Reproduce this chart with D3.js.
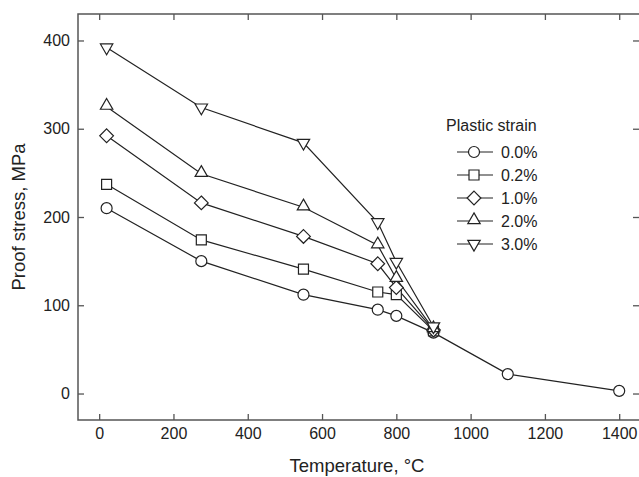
<!DOCTYPE html>
<html>
<head>
<meta charset="utf-8">
<script src="https://cdn.jsdelivr.net/npm/d3@7/dist/d3.min.js"></script>
<style>
  body { margin: 0; background: #fff; }
  svg { display: block; font-family: Arial, "Liberation Sans", sans-serif; }
</style>
</head>
<body>
<svg id="chart" width="639" height="477"></svg>
<script>
// data
const temps = [20, 275, 550, 750, 800, 900];
const strainLabels = ["0.0%", "0.2%", "1.0%", "2.0%", "3.0%"];
const symbols = ["circle", "square", "diamond", "triangle", "triangleDown"];
const s00 = [210, 150, 112, 95, 88, 69, 22, 3];
const s00Temps = [20, 275, 550, 750, 800, 900, 1100, 1400];
const s02 = [237, 174, 141, 115, 112, 71];
const s10 = [292, 216, 178, 147, 120, 72];
const s20 = [325, 249, 211, 168, 130, 73];
const s30 = [392, 324, 284, 194, 149, 76];
const xTicks = [0, 200, 400, 600, 800, 1000, 1200, 1400];
const yTicks = [0, 100, 200, 300, 400];

const series = [
  s00.map((v, i) => [s00Temps[i], v]),
  s02.map((v, i) => [temps[i], v]),
  s10.map((v, i) => [temps[i], v]),
  s20.map((v, i) => [temps[i], v]),
  s30.map((v, i) => [temps[i], v])
];

const margin = { left: 78, top: 14, right: 640, bottom: 420 };
const svg = d3.select("#chart");

const x = d3.scaleLinear().domain([-57, 1456]).range([margin.left, margin.right]);
const y = d3.scaleLinear().domain([-30, 430]).range([margin.bottom, margin.top]);

const axisColor = "#555";
const lineColor = "#222";

// frame
svg.append("rect")
  .attr("x", margin.left).attr("y", margin.top)
  .attr("width", margin.right - margin.left)
  .attr("height", margin.bottom - margin.top)
  .attr("fill", "none").attr("stroke", axisColor).attr("stroke-width", 1.5);

const tickLen = 6;
const styleAxis = (g) => {
  g.select(".domain").remove();
  g.selectAll(".tick line").attr("stroke", axisColor).attr("stroke-width", 1.3);
  g.selectAll(".tick text").attr("fill", "#222").style("font-size", "16px");
};

svg.append("g")
  .attr("transform", `translate(0,${margin.bottom})`)
  .call(d3.axisBottom(x).tickValues(xTicks).tickSize(-tickLen).tickPadding(8).tickFormat(d3.format("d")))
  .call(styleAxis);
svg.append("g")
  .attr("transform", `translate(0,${margin.top})`)
  .call(d3.axisTop(x).tickValues(xTicks).tickSize(-tickLen).tickFormat(""))
  .call(styleAxis);
svg.append("g")
  .attr("transform", `translate(${margin.left},0)`)
  .call(d3.axisLeft(y).tickValues(yTicks).tickSize(-tickLen).tickPadding(8))
  .call(styleAxis);
svg.append("g")
  .attr("transform", `translate(${margin.right - 1},0)`)
  .call(d3.axisRight(y).tickValues(yTicks).tickSize(-tickLen).tickFormat(""))
  .call(styleAxis);

// axis titles
svg.append("text")
  .attr("x", 357).attr("y", 472)
  .attr("text-anchor", "middle")
  .attr("fill", "#222")
  .style("font-size", "18.5px")
  .text("Temperature, °C");
svg.append("text")
  .attr("transform", `translate(25,${(margin.top + margin.bottom) / 2}) rotate(-90)`)
  .attr("text-anchor", "middle")
  .attr("fill", "#222")
  .style("font-size", "18.5px")
  .text("Proof stress, MPa");

const symType = {
  circle: d3.symbolCircle,
  square: d3.symbolSquare,
  diamond: d3.symbolDiamond2,
  triangle: d3.symbolTriangle2,
  triangleDown: d3.symbolTriangle2
};
const symSize = { circle: 95, square: 100, diamond: 120, triangle: 110, triangleDown: 110 };

function drawSymbol(g, name, cx, cy) {
  const path = d3.symbol().type(symType[name]).size(symSize[name])();
  let t = `translate(${cx},${cy})`;
  if (name === "triangleDown") t += " rotate(180)";
  if (name === "triangle") t += " translate(0,-1)";
  g.append("path")
    .attr("d", path)
    .attr("transform", t)
    .attr("fill", "#fff")
    .attr("stroke", lineColor)
    .attr("stroke-width", 1.2);
}

const line = d3.line().x(d => x(d[0])).y(d => y(d[1]));

series.forEach((pts) => {
  svg.append("path")
    .datum(pts)
    .attr("d", line)
    .attr("fill", "none")
    .attr("stroke", lineColor)
    .attr("stroke-width", 1.2);
});
// markers drawn after lines so they sit on top
series.forEach((pts, i) => {
  const g = svg.append("g");
  pts.forEach(d => drawSymbol(g, symbols[i], x(d[0]), y(d[1])));
});

// legend
const legend = svg.append("g");
legend.append("text")
  .attr("x", 446).attr("y", 131)
  .attr("fill", "#222")
  .style("font-size", "16px")
  .text("Plastic strain");
strainLabels.forEach((lab, i) => {
  const ly = 152 + i * 23;
  legend.append("line")
    .attr("x1", 457).attr("x2", 493)
    .attr("y1", ly).attr("y2", ly)
    .attr("stroke", lineColor).attr("stroke-width", 1.2);
  drawSymbol(legend, symbols[i], 474, ly);
  legend.append("text")
    .attr("x", 501).attr("y", ly + 6)
    .attr("fill", "#222")
    .style("font-size", "16px")
    .text(lab);
});
</script>
</body>
</html>
